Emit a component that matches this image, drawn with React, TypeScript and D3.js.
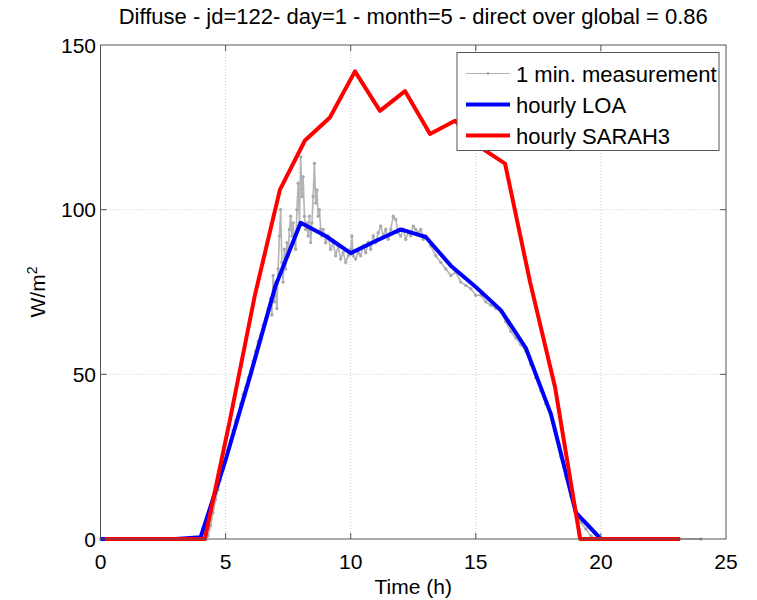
import * as d3 from 'd3';
import { useEffect } from 'react';

// hourly LOA (on the hour)
const loaHours = [0, 1, 2, 3, 4, 5, 6, 7, 8, 9, 10, 11, 12, 13, 14, 15, 16, 17, 18, 19, 20, 21, 22, 23];
const loaValues = [0, 0, 0, 0, 0.5, 24, 50, 77, 96, 92, 86.8, 90.5, 94, 91.7, 83, 76.5, 69.5, 58, 38, 8, 0, 0, 0, 0];

// hourly SARAH3 (10 min past the hour)
const sarahHours = [0.17, 1.17, 2.17, 3.17, 4.17, 5.17, 6.17, 7.17, 8.17, 9.17, 10.17, 11.17, 12.17, 13.17, 14.17, 15.17, 16.17, 17.17, 18.17, 19.17, 20.17, 21.17, 22.17, 23.17];
const sarahValues = [0, 0, 0, 0, 0, 36, 74, 106, 121, 128, 142, 130, 136, 123, 127, 119, 114, 78, 46, 0, 0, 0, 0, 0];

const measHours = [
  0, 1, 2, 3, 4, 4.2, 4.3, 4.4, 4.5, 4.6, 4.7, 4.8, 4.9, 5.0, 5.1, 5.2, 5.3, 5.4, 5.5, 5.6, 5.7, 5.8, 5.9,
  6.0, 6.1, 6.2, 6.3, 6.4, 6.5, 6.6, 6.7, 6.8, 6.85, 6.9, 6.95, 7.0, 7.05, 7.1, 7.15, 7.2, 7.25, 7.3, 7.35,
  7.4, 7.45, 7.5, 7.55, 7.6, 7.65, 7.7, 7.75, 7.8, 7.85, 7.9, 7.95, 8.0, 8.05, 8.1, 8.15, 8.2, 8.25, 8.3,
  8.35, 8.4, 8.45, 8.5, 8.55, 8.6, 8.65, 8.7, 8.75, 8.8, 8.85, 8.9, 9.0, 9.1, 9.2, 9.3, 9.4, 9.5, 9.6, 9.7,
  9.8, 9.9, 10.0, 10.05, 10.1, 10.2, 10.3, 10.4, 10.5, 10.6, 10.7, 10.8, 10.9, 11.0, 11.1, 11.2, 11.3, 11.4,
  11.5, 11.6, 11.7, 11.8, 11.9, 12.0, 12.1, 12.2, 12.3, 12.4, 12.5, 12.6, 12.7, 12.8, 12.9, 13.0, 13.2,
  13.4, 13.6, 13.8, 14.0, 14.2, 14.4, 14.6, 14.8, 15.0, 15.2, 15.4, 15.6, 15.8, 16.0, 16.2, 16.4, 16.6,
  16.8, 17.0, 17.2, 17.4, 17.6, 17.8, 18.0, 18.2, 18.4, 18.6, 18.8, 19.0, 19.2, 19.4, 19.6, 19.8, 21, 22, 23, 24,
];
const measValues = [
  0, 0, 0, 0, 0, 0, 1, 4, 8, 12, 15, 18, 21, 24, 27, 30, 33, 36, 38, 41, 44, 46, 49,
  51, 54, 57, 60, 62, 65, 67, 70, 73, 68, 80, 72, 78, 70, 82, 92, 100, 84, 78, 88,
  82, 90, 86, 94, 98, 92, 96, 90, 88, 100, 108, 96, 116, 104, 110, 98, 94, 96, 92,
  98, 90, 96, 104, 114, 102, 106, 98, 100, 94, 92, 94, 90, 92, 88, 90, 86, 89, 85, 87,
  84, 86, 88, 92, 86, 85, 87, 86, 89, 87, 90, 88, 92, 90, 93, 95, 92, 94,
  91, 94, 98, 97, 93, 92, 94, 91, 93, 92, 95, 94, 93, 94, 91, 92, 89,
  86, 84, 82, 80, 81, 78, 77, 76, 74, 74, 72, 71, 70, 69, 66, 63, 61,
  59, 57, 53, 49, 45, 41, 38, 32, 25, 19, 13, 8, 5, 3, 1, 0, 0, 0, 0, 0,
];

const xTicks = [0, 5, 10, 15, 20, 25];
const yTicks = [0, 50, 100, 150];
const title = 'Diffuse - jd=122- day=1 - month=5 - direct over global = 0.86';
const legendLabels = ['1 min. measurement', 'hourly LOA', 'hourly SARAH3'];

const W = 757;
const H = 600;
const left = 100.5;
const right = 726;
const top = 45;
const bottom = 539;
const font = '"Liberation Sans", Arial, Helvetica, sans-serif';

export default function App() {
  useEffect(() => {
    document.body.style.margin = '0';
  }, []);

  const x = d3.scaleLinear([0, 25], [left, right]);
  const y = d3.scaleLinear([0, 150], [bottom, top]);

  const line = d3
    .line<[number, number]>()
    .x((d) => x(d[0]))
    .y((d) => y(d[1]));

  const meas = measHours.map((h, i) => [h, measValues[i]] as [number, number]);
  const loa = loaHours.map((h, i) => [h, loaValues[i]] as [number, number]);
  const sarah = sarahHours.map((h, i) => [h, sarahValues[i]] as [number, number]);

  const legendColors = ['#b4b4b4', '#0000ff', '#ff0000'];
  const lgX = 457;
  const lgY = 52.5;

  return (
    <svg width={W} height={H} viewBox={`0 0 ${W} ${H}`} style={{ display: 'block', background: '#fff' }}>
      <rect x={0} y={0} width={W} height={H} fill="#fff" />
      {/* grid */}
      {xTicks.slice(1, -1).map((t) => (
        <line key={'gx' + t} x1={x(t)} x2={x(t)} y1={top} y2={bottom} stroke="#c8c8c8" strokeDasharray="1,2" />
      ))}
      {yTicks.slice(1, -1).map((t) => (
        <line key={'gy' + t} x1={left} x2={right} y1={y(t)} y2={y(t)} stroke="#c8c8c8" strokeDasharray="1,2" />
      ))}

      {/* data */}
      <path d={line(meas) ?? ''} fill="none" stroke="#b4b4b4" strokeWidth={1.6} />
      {meas.map((d, i) => (
        <circle key={'m' + i} cx={x(d[0])} cy={y(d[1])} r={1.7} fill="#aaaaaa" />
      ))}
      <path d={line(loa) ?? ''} fill="none" stroke="#0000ff" strokeWidth={4} strokeLinejoin="round" />
      <path d={line(sarah) ?? ''} fill="none" stroke="#ff0000" strokeWidth={4} strokeLinejoin="round" />

      {/* axes box */}
      <rect x={left} y={top} width={right - left} height={bottom - top} fill="none" stroke="#555" strokeWidth={1} />
      {xTicks.slice(1, -1).map((t) => (
        <g key={'tx' + t}>
          <line x1={x(t)} x2={x(t)} y1={bottom} y2={bottom - 6} stroke="#555" />
          <line x1={x(t)} x2={x(t)} y1={top} y2={top + 6} stroke="#555" />
        </g>
      ))}
      {yTicks.slice(1, -1).map((t) => (
        <g key={'ty' + t}>
          <line x1={left} x2={left + 6} y1={y(t)} y2={y(t)} stroke="#555" />
          <line x1={right} x2={right - 6} y1={y(t)} y2={y(t)} stroke="#555" />
        </g>
      ))}
      {xTicks.map((t) => (
        <text key={'lx' + t} x={x(t)} y={569} textAnchor="middle" fontFamily={font} fontSize={21} fill="#000">
          {t}
        </text>
      ))}
      {yTicks.map((t) => (
        <text key={'ly' + t} x={96} y={y(t) + 7.5} textAnchor="end" fontFamily={font} fontSize={21} fill="#000">
          {t}
        </text>
      ))}

      {/* labels */}
      <text x={(left + right) / 2} y={24} textAnchor="middle" fontFamily={font} fontSize={22} fill="#000">
        {title}
      </text>
      <text x={(left + right) / 2} y={594} textAnchor="middle" fontFamily={font} fontSize={21} fill="#000">
        Time (h)
      </text>
      <text transform={`translate(45,${(top + bottom) / 2}) rotate(-90)`} textAnchor="middle" fontFamily={font} fontSize={21} fill="#000">
        W/m<tspan dy={-8} fontSize={14}>2</tspan>
      </text>

      {/* legend */}
      <rect x={lgX} y={lgY} width={262} height={98} fill="#fff" stroke="#555" strokeWidth={1} />
      {legendLabels.map((lab, i) => {
        const ly = lgY + 21 + i * 31;
        return (
          <g key={lab}>
            <line x1={lgX + 9} x2={lgX + 53} y1={ly} y2={ly} stroke={legendColors[i]} strokeWidth={i === 0 ? 1 : 4} />
            {i === 0 && <circle cx={lgX + 31} cy={ly} r={1.3} fill="#999" />}
            <text x={lgX + 59} y={ly + 8} fontFamily={font} fontSize={22} fill="#000">
              {lab}
            </text>
          </g>
        );
      })}
    </svg>
  );
}
